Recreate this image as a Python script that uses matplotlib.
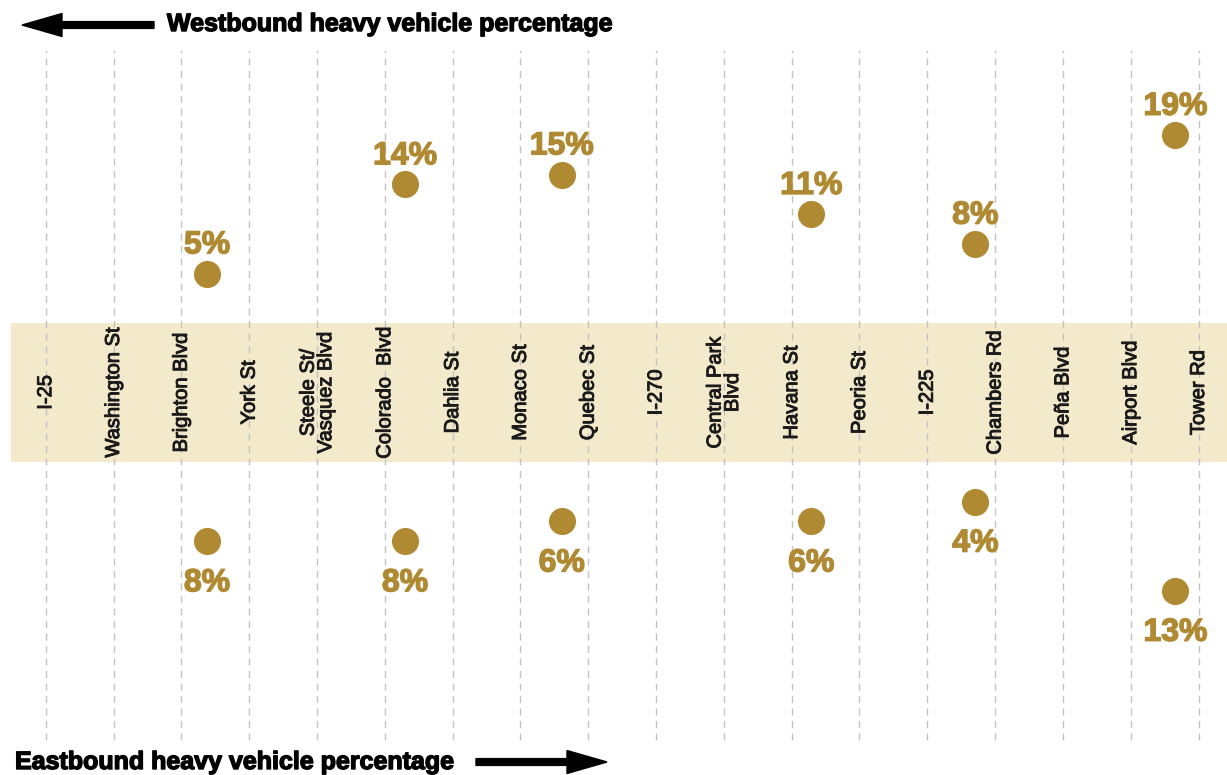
import numpy as np
import matplotlib
matplotlib.use("Agg")
import matplotlib.pyplot as plt
import matplotlib.patheffects as pe
from matplotlib.patches import FancyArrow

# Streets along the corridor (west -> east)
streets = ["I-25", "Washington St", "Brighton Blvd", "York St",
           "Steele St/\nVasquez Blvd", "Colorado  Blvd", "Dahlia St",
           "Monaco St", "Quebec St", "I-270", "Central Park\nBlvd",
           "Havana St", "Peoria St", "I-225", "Chambers Rd", "Peña Blvd",
           "Airport Blvd", "Tower Rd"]

# Count stations, located in street-index units
station_pos = [2.38, 5.30, 7.61, 11.29, 13.71, 16.66]
westbound = [5, 14, 15, 11, 8, 19]
eastbound = [8, 8, 6, 6, 4, 13]

gold = '#B08A32'
band_color = '#F3EACC'
band_h = 14.04  # height of the street band in percent units

plt.rcParams['font.family'] = ['Liberation Sans', 'DejaVu Sans']

fig = plt.figure(figsize=(12.27, 7.75), dpi=100)
ax = fig.add_axes([0, 0, 1, 1])
ax.set_xlim(-0.674, 17.42)
ax.set_ylim(-31.62, 46.67)
ax.axis('off')

# street band
ax.axhspan(0, band_h, xmin=11 / 1227, xmax=1, color=band_color, zorder=1, lw=0)

# dashed street lines
ax.vlines(np.arange(len(streets)), -28.1, 41.6, colors='#c2c2c2',
          linestyles=(0, (5, 4)), lw=1, zorder=2)

# street names
street_fx = [pe.withStroke(linewidth=0.7, foreground='#1a1a1a')]
for i, name in enumerate(streets):
    ax.text(i, band_h / 2, name, rotation=90, ha='center', va='center',
            multialignment='center', fontsize=14.5, color='#1a1a1a',
            linespacing=0.9, zorder=3, path_effects=street_fx)

pct_fx = [pe.withStroke(linewidth=1.0, foreground=gold)]

# westbound (above band)
wy = band_h + np.array(westbound)
ax.scatter(station_pos, wy, s=380, color=gold, lw=0, zorder=4)
for x, y, v in zip(station_pos, wy, westbound):
    ax.annotate(f"{v}%", (x, y), xytext=(0, 14.5), textcoords='offset points',
                ha='center', va='baseline', fontsize=23, fontweight='bold',
                color=gold, zorder=5, path_effects=pct_fx)

# eastbound (below band)
ey = -np.array(eastbound)
ax.scatter(station_pos, ey, s=380, color=gold, lw=0, zorder=4)
for x, y, v in zip(station_pos, ey, eastbound):
    ax.annotate(f"{v}%", (x, y), xytext=(0, -19.5), textcoords='offset points',
                ha='center', va='top', fontsize=23, fontweight='bold',
                color=gold, zorder=5, path_effects=pct_fx)

# direction headers with arrows (coords in inches from bottom-left)
title_fx = [pe.withStroke(linewidth=1.0, foreground='black')]
fig.text(167 / 1227, 1 - 24 / 775, "Westbound heavy vehicle percentage",
         ha='left', va='center', fontsize=18, fontweight='bold', color='black',
         path_effects=title_fx)
fig.text(15 / 1227, 1 - 762 / 775, "Eastbound heavy vehicle percentage",
         ha='left', va='center', fontsize=18, fontweight='bold', color='black',
         path_effects=title_fx)

arr_kw = dict(width=0.068, head_width=0.23, head_length=0.40,
              length_includes_head=True, color='black',
              transform=fig.dpi_scale_trans)
fig.patches.append(FancyArrow(1.54, 7.75 - 0.25, -1.32, 0, **arr_kw))
fig.patches.append(FancyArrow(4.76, 7.75 - 7.62, 1.31, 0, **arr_kw))

fig.savefig("out.png", dpi=100, facecolor='white')
